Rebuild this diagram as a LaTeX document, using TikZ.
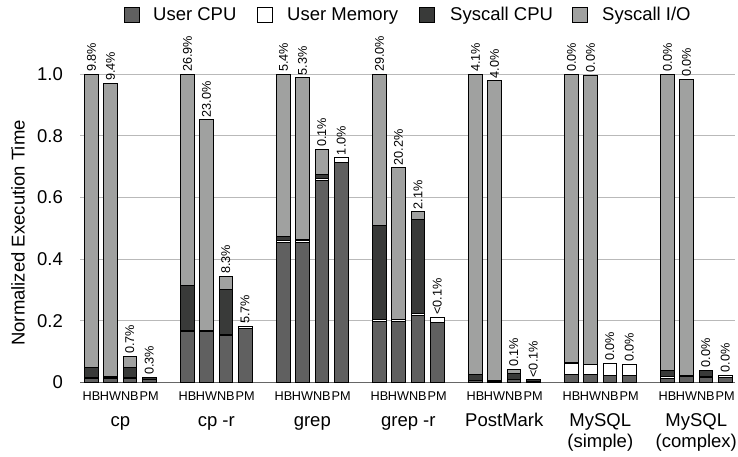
\documentclass[tikz,border=0pt]{standalone}
\usepackage{fontspec}
\setmainfont{Liberation Sans}
\definecolor{ucpu}{RGB}{96,96,96}
\definecolor{umem}{RGB}{255,255,255}
\definecolor{scpu}{RGB}{57,58,57}
\definecolor{sio}{RGB}{160,161,160}
\definecolor{gridc}{RGB}{185,185,185}
\newcommand\bigf{\fontsize{18.5}{21}\selectfont}
\newcommand\smallf{\fontsize{12.7}{14}\selectfont}
\tikzset{
  seg/.style={draw=black,line width=0.7pt},
  pct/.style={rotate=90,anchor=west,font=\smallf,inner sep=2.2pt},
  cat/.style={anchor=base,font=\smallf,inner sep=0pt},
  grp/.style={anchor=base,font=\bigf,inner sep=0pt},
  tick/.style={anchor=east,font=\bigf,inner sep=0pt},
  legbox/.style={draw=black,line width=0.7pt},
  legtext/.style={anchor=base west,font=\bigf,inner sep=0pt}
}
% #1 left x, #2 user cpu, #3 user mem, #4 syscall cpu, #5 syscall io, #6 label, #7 category
\newcommand\drawbar[7]{%
  \pgfmathsetmacro\ya{#2}%
  \pgfmathsetmacro\yb{#2+#3}%
  \pgfmathsetmacro\yc{#2+#3+#4}%
  \pgfmathsetmacro\yd{#2+#3+#4+#5}%
  \ifdim#2pt>0pt \filldraw[seg,fill=ucpu] (#1,0) rectangle (#1+13.5,\ya);\fi
  \ifdim#3pt>0pt \filldraw[seg,fill=umem] (#1,\ya) rectangle (#1+13.5,\yb);\fi
  \ifdim#4pt>0pt \filldraw[seg,fill=scpu] (#1,\yb) rectangle (#1+13.5,\yc);\fi
  \ifdim#5pt>0pt \filldraw[seg,fill=sio] (#1,\yc) rectangle (#1+13.5,\yd);\fi
  \node[pct] at (#1+6.75,\yd) {#6};
  \node[cat] at (#1+6.75,-0.0575) {#7};
}
\begin{document}
\begin{tikzpicture}[x=1pt,y=1pt]
\useasboundingbox (0,0) rectangle (738,457);
% legend
\filldraw[legbox,fill=ucpu] (124,435) rectangle (139,450);
\node[legtext] (l1) at (153,436.5) {User CPU};
\filldraw[legbox,fill=umem] (257,435) rectangle (272,450);
\node[legtext] (l2) at (287,436.5) {User Memory};
\filldraw[legbox,fill=scpu] (419,435) rectangle (434,450);
\node[legtext] (l3) at (450,436.5) {Syscall CPU};
\filldraw[legbox,fill=sio] (572,435) rectangle (587,450);
\node[legtext] (l4) at (602,436.5) {Syscall I/O};
% y title
\node[font=\bigf,rotate=90] (ytitle) at (18,224) {Normalized Execution Time};
\begin{scope}[yshift=74.7pt,y=308pt]
  \foreach \v in {0.2,0.4,0.6,0.8,1.0}
    \draw[gridc,line width=0.8pt] (80,\v) -- (735,\v);
  \draw[black!60,line width=1.4pt] (80,0) -- (735,0);
  \node[tick] (t0) at (63,0) {0};
  \node[tick] (t2) at (63,0.2) {0.2};
  \node[tick] (t4) at (63,0.4) {0.4};
  \node[tick] (t6) at (63,0.6) {0.6};
  \node[tick] (t8) at (63,0.8) {0.8};
  \node[tick] (t10) at (63,1.0) {1.0};
  % cp
  \def\gx{84.8}
  \drawbar{\gx}{0.012}{0.003}{0.033}{0.952}{9.8\%}{HB}
  \drawbar{\gx+19}{0.012}{0.003}{0.003}{0.953}{9.4\%}{HW}
  \drawbar{\gx+38.3}{0.012}{0.003}{0.033}{0.037}{0.7\%}{NB}
  \drawbar{\gx+57.6}{0.010}{0}{0.007}{0}{0.3\%}{PM}
  % cp -r
  \def\gx{180.8}
  \drawbar{\gx}{0.165}{0.005}{0.146}{0.684}{26.9\%}{HB}
  \drawbar{\gx+19}{0.165}{0.005}{0}{0.683}{23.0\%}{HW}
  \drawbar{\gx+38.3}{0.152}{0.004}{0.147}{0.041}{8.3\%}{NB}
  \drawbar{\gx+57.6}{0.175}{0.007}{0}{0}{5.7\%}{PM}
  % grep
  \def\gx{276.8}
  \drawbar{\gx}{0.453}{0.008}{0.014}{0.525}{5.4\%}{HB}
  \drawbar{\gx+19}{0.455}{0.007}{0.003}{0.524}{5.3\%}{HW}
  \drawbar{\gx+38.3}{0.655}{0.007}{0.013}{0.082}{0.1\%}{NB}
  \drawbar{\gx+57.6}{0.715}{0.015}{0}{0}{1.0\%}{PM}
  % grep -r
  \def\gx{372.8}
  \drawbar{\gx}{0.198}{0.007}{0.305}{0.490}{29.0\%}{HB}
  \drawbar{\gx+19}{0.198}{0.007}{0}{0.492}{20.2\%}{HW}
  \drawbar{\gx+38.3}{0.217}{0.007}{0.306}{0.024}{2.1\%}{NB}
  \drawbar{\gx+57.6}{0.196}{0.015}{0}{0}{<0.1\%}{PM}
  % PostMark
  \def\gx{468.8}
  \drawbar{\gx}{0.007}{0}{0.020}{0.973}{4.1\%}{HB}
  \drawbar{\gx+19}{0.003}{0}{0.003}{0.973}{4.0\%}{HW}
  \drawbar{\gx+38.3}{0.010}{0}{0.018}{0.014}{0.1\%}{NB}
  \drawbar{\gx+57.6}{0.004}{0}{0.004}{0}{<0.1\%}{PM}
  % MySQL simple
  \def\gx{564.8}
  \drawbar{\gx}{0.026}{0.034}{0.004}{0.936}{0.0\%}{HB}
  \drawbar{\gx+19}{0.026}{0.033}{0}{0.939}{0.0\%}{HW}
  \drawbar{\gx+38.3}{0.024}{0.038}{0}{0}{0.0\%}{NB}
  \drawbar{\gx+57.6}{0.024}{0.035}{0}{0}{0.0\%}{PM}
  % MySQL complex
  \def\gx{660.8}
  \drawbar{\gx}{0.014}{0.005}{0.021}{0.960}{0.0\%}{HB}
  \drawbar{\gx+19}{0.018}{0.006}{0}{0.960}{0.0\%}{HW}
  \drawbar{\gx+38.3}{0.015}{0.004}{0.021}{0}{0.0\%}{NB}
  \drawbar{\gx+57.6}{0.016}{0.008}{0}{0}{0.0\%}{PM}
\end{scope}
% group labels
\node[grp] (g1) at (120.3,30.3) {cp};
\node[grp] (g2) at (216.3,30.3) {cp -r};
\node[grp] (g3) at (312.3,30.3) {grep};
\node[grp] (g4) at (408.3,30.3) {grep -r};
\node[grp] (g5) at (504.3,30.3) {PostMark};
\node[grp] (g6) at (600.3,30.3) {MySQL};
\node[grp] (g6b) at (600.3,9.5) {(simple)};
\node[grp] (g7) at (696.3,30.3) {MySQL};
\node[grp] (g7b) at (696.3,9.5) {(complex)};
\end{tikzpicture}
\end{document}
